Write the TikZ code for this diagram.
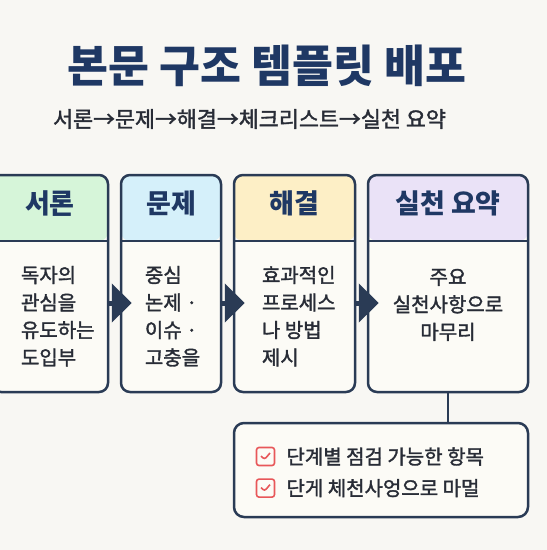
\documentclass[tikz,border=0pt]{standalone}
\usepackage{fontspec}
\setmainfont{Noto Sans CJK KR}
\newfontfamily\krmedium[FakeBold=1.6]{Noto Sans CJK KR}
\usetikzlibrary{arrows.meta,positioning}
\definecolor{mybg}{RGB}{248,247,243}
\definecolor{mynavy}{RGB}{42,59,85}
\definecolor{mytitle}{RGB}{31,56,100}
\definecolor{mytext}{RGB}{40,44,54}
\definecolor{mygreen}{RGB}{214,245,217}
\definecolor{myblue}{RGB}{213,240,250}
\definecolor{myyellow}{RGB}{253,239,198}
\definecolor{mypurple}{RGB}{234,226,247}
\definecolor{mybody}{RGB}{252,251,246}
\definecolor{myred}{RGB}{232,87,90}

\tikzset{
  card/.style 2 args={draw=mynavy, line width=2.5pt, fill=mybody, rounded corners=9pt,
    minimum width=#1, minimum height=217pt, inner sep=0pt,
    path picture={
      \fill[#2] (path picture bounding box.north west) rectangle ([yshift=-66pt]path picture bounding box.north east);
      \draw[mynavy, line width=2.5pt] ([yshift=-66pt]path picture bounding box.north west) -- ([yshift=-66pt]path picture bounding box.north east);
    }},
  headtext/.style={font=\fontsize{27}{31}\selectfont\bfseries, text=mytitle},
  bodytext/.style={font=\fontsize{20}{27.5}\krmedium, text=mytext, inner sep=0pt},
  flowarrow/.style={draw=mynavy, line width=5pt, shorten >=-12pt, -{Triangle[length=20pt,width=38pt]}},
  link/.style={draw=mynavy, line width=2.5pt},
  listbox/.style={draw=mynavy, line width=2.5pt, fill=mybody, rounded corners=10pt, minimum width=294pt, minimum height=94pt},
  checkbox/.style={draw=myred, line width=1.6pt, rounded corners=2.5pt, minimum size=18pt, inner sep=0pt,
    path picture={\draw[myred, line width=1.6pt] ([shift={(-4.5pt,0.5pt)}]path picture bounding box.center) -- ([shift={(-1pt,-3pt)}]path picture bounding box.center) -- ([shift={(4.5pt,3.5pt)}]path picture bounding box.center);}},
  itemtext/.style={font=\fontsize{20}{24}\krmedium, text=mytext, inner sep=0pt}
}

\begin{document}
\begin{tikzpicture}[x=1pt,y=-1pt]
\useasboundingbox (0,0) rectangle (547,550);
\clip (0,0) rectangle (547,550);
\fill[mybg] (0,0) rectangle (547,550);

% title
\node[font=\fontsize{44.5}{52}\selectfont\bfseries, text=mytitle] (title) at (267,66) {본문 구조 템플릿 배포};
\node[font=\fontsize{21.8}{26}\krmedium, text=mytext] (subtitle) at (249.5,119) {서론→문제→해결→체크리스트→실천 요약};

% the four steps
\node[card={116pt}{mygreen}] (intro) at (50,283.5) {};
\node[card={100pt}{myblue}] (problem) at (171,283.5) {};
\node[card={121pt}{myyellow}] (solution) at (294.5,283.5) {};
\node[card={160pt}{mypurple}] (summary) at (448,283.5) {};

\node[headtext] (intro-title) at ([yshift=-30pt]intro.north) {서론};
\node[headtext] (problem-title) at ([yshift=-30pt]problem.north) {문제};
\node[headtext] (solution-title) at ([yshift=-30pt]solution.north) {해결};
\node[headtext] (summary-title) at ([yshift=-30pt]summary.north) {실천 요약};

\node[bodytext, anchor=north west, align=left] (intro-text) at ([xshift=30pt,yshift=-92pt]intro.north west) {독자의\\관심을\\유도하는\\도입부};
\node[bodytext, anchor=north west, align=left] (problem-text) at ([xshift=25pt,yshift=-92pt]problem.north west) {중심\\논제 ·\\이슈 ·\\고충을};
\node[bodytext, anchor=north west, align=left] (solution-text) at ([xshift=29pt,yshift=-92pt]solution.north west) {효과적인\\프로세스\\나 방법\\제시};
\node[bodytext, anchor=north, align=center] (summary-text) at ([yshift=-95pt]summary.north) {주요\\실천사항으로\\마무리};

\coordinate (arrowrow) at (0,303);
\draw[flowarrow] (intro.east |- arrowrow) -- (problem.west |- arrowrow);
\draw[flowarrow] (problem.east |- arrowrow) -- (solution.west |- arrowrow);
\draw[flowarrow] (solution.east |- arrowrow) -- (summary.west |- arrowrow);

% checklist
\node[listbox] (checklist) at (381,470) {};
\draw[link] (summary.south) -- (checklist.north -| summary.south);
\node[checkbox] (check1) at (265.5,456.5) {};
\node[checkbox, below=12pt of check1] (check2) {};
\node[itemtext, right=11pt of check1] (item1) {단계별 점검 가능한 항목};
\node[itemtext, right=11pt of check2] (item2) {단게 체천사엉으로 마멀};
\end{tikzpicture}
\end{document}
